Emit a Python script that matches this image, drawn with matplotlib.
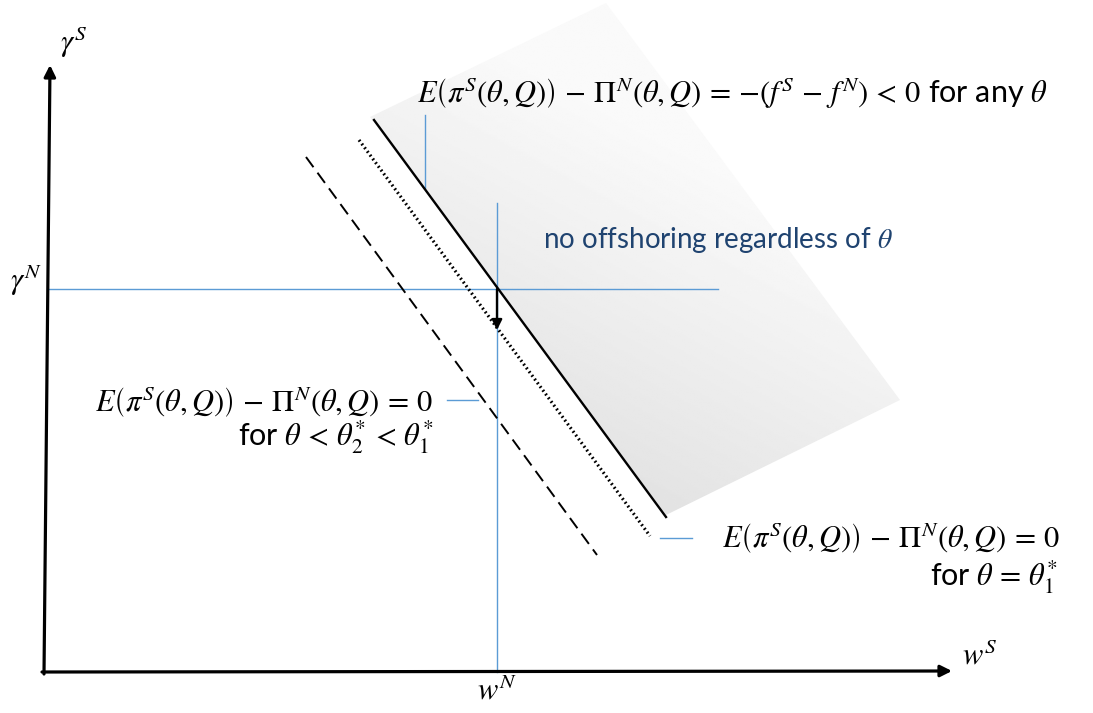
import numpy as np
import matplotlib.pyplot as plt
from matplotlib.patches import Polygon

plt.rcParams['mathtext.fontset'] = 'stix'
plt.rcParams['font.family'] = ['Lato', 'DejaVu Sans']

# coordenadas del diagrama (unidades arbitrarias, origen en el cruce de ejes)
w_N = 4.53
gamma_N = 3.83

# isolinea E(pi^S) - Pi^N = -(f^S - f^N)  (linea continua)
solid_x = [3.30, 6.22]
solid_y = [5.52, 1.55]
# isolinea para theta = theta_1* (punteada)
dotted_x = [3.15, 6.06]
dotted_y = [5.32, 1.36]
# isolinea para theta < theta_2* < theta_1* (rayada)
dashed_x = [2.62, 5.53]
dashed_y = [5.15, 1.17]
# zona sombreada: no offshoring
shade_x = [3.26, 5.62, 8.56, 6.22]
shade_y = [5.55, 6.69, 2.72, 1.57]

blue = '#5B9BD5'

fig = plt.figure(figsize=(10.93, 7.13), dpi=100)
ax = fig.add_axes([0, 0, 1, 1])
ax.set_xlim(-0.44, 10.49)
ax.set_ylim(-0.41, 6.72)
ax.axis('off')

# sombreado con degradado
poly = Polygon(np.column_stack([shade_x, shade_y]), closed=True, facecolor='none', edgecolor='none')
ax.add_patch(poly)
gx, gy = np.meshgrid(np.linspace(min(shade_x), max(shade_x), 300),
                     np.linspace(min(shade_y), max(shade_y), 300))
g = np.clip(0.77 + 0.0130 * gx + 0.0240 * gy, 0, 0.98)
img = ax.imshow(g, cmap='gray', vmin=0, vmax=1, origin='lower', aspect='auto',
                extent=[min(shade_x), max(shade_x), min(shade_y), max(shade_y)], zorder=1)
img.set_clip_path(poly)

# lineas guia azules
ax.plot([0.04, 6.74], [gamma_N, gamma_N], color=blue, lw=1.0, zorder=2)
ax.plot([w_N, w_N], [0, 4.69], color=blue, lw=1.0, zorder=2)
ax.plot([3.81, 3.81], [5.57, 4.84], color=blue, lw=1.0, zorder=2)
ax.plot([4.03, 4.34], [2.72, 2.72], color=blue, lw=1.0, zorder=2)
ax.plot([6.16, 6.48], [1.34, 1.34], color=blue, lw=1.0, zorder=2)

# isolineas
ax.plot(solid_x, solid_y, color='black', lw=1.7, zorder=3)
ax.plot(dotted_x, dotted_y, color='black', lw=2.3, linestyle=(0, (0.55, 0.9)), zorder=3)
ax.plot(dashed_x, dashed_y, color='black', lw=1.4, linestyle=(0, (6.5, 3.5)), zorder=3)

# flecha hacia abajo
ax.annotate('', xy=(w_N, 3.42), xytext=(w_N, gamma_N),
            arrowprops=dict(arrowstyle='-|>', color='black', lw=1.7, mutation_scale=15,
                            shrinkA=0, shrinkB=0), zorder=4)

# ejes
ax.annotate('', xy=(0.06, 6.07), xytext=(0, -0.02),
            arrowprops=dict(arrowstyle='-|>', color='black', lw=2.3, mutation_scale=17,
                            shrinkA=0, shrinkB=0))
ax.annotate('', xy=(9.08, 0.01), xytext=(-0.02, 0),
            arrowprops=dict(arrowstyle='-|>', color='black', lw=2.3, mutation_scale=17,
                            shrinkA=0, shrinkB=0))

fs = 22
ax.text(0.30, 6.30, r'$\gamma^S$', fontsize=fs, ha='center', va='center')
ax.text(-0.18, 3.92, r'$\gamma^N$', fontsize=fs, ha='center', va='center')
ax.text(9.36, 0.17, r'$w^S$', fontsize=fs, ha='center', va='center')
ax.text(w_N, -0.18, r'$w^N$', fontsize=fs, ha='center', va='center')

ax.text(3.73, 5.79,
        r'$E\left(\pi^S(\theta,Q)\right)\, -\, \Pi^N(\theta,Q)\, =\, {-}(f^S\, -\, f^N)\, <\, 0$ for any $\theta$',
        fontsize=fs, ha='left', va='center')
ax.text(4.99, 4.32, r'no offshoring regardless of $\theta$', fontsize=20, ha='left', va='center',
        color='#1F4370')
ax.text(3.89, 2.70, r'$E\left(\pi^S(\theta,Q)\right)\, -\, \Pi^N(\theta,Q)\, =\, 0$',
        fontsize=fs, ha='right', va='center')
ax.text(3.89, 2.35, r'for $\theta\, <\, \theta_2^{*}\, <\, \theta_1^{*}$', fontsize=fs, ha='right', va='center')
ax.text(10.16, 1.34, r'$E\left(\pi^S(\theta,Q)\right)\, -\, \Pi^N(\theta,Q)\, =\, 0$',
        fontsize=fs, ha='right', va='center')
ax.text(10.14, 0.95, r'for $\theta\, =\, \theta_1^{*}$', fontsize=fs, ha='right', va='center')

fig.savefig('out.png', dpi=100)
